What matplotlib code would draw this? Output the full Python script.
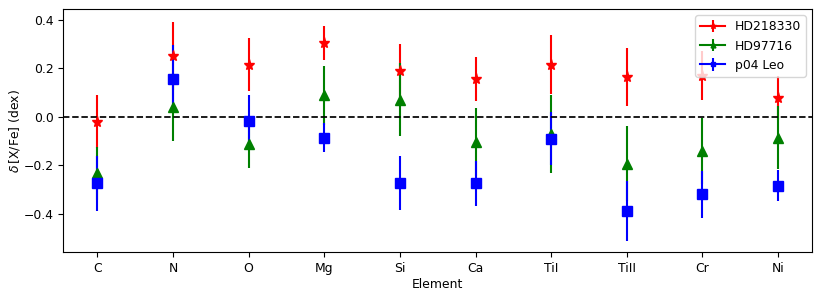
import numpy as np
import matplotlib.pyplot as plt

plt.rcParams['font.size'] = 8.9

# elements and abundance differences
elements = ['C', 'N', 'O', 'Mg', 'Si', 'Ca', 'TiI', 'TiII', 'Cr', 'Ni']

hd218330 = [-0.02, 0.25, 0.215, 0.305, 0.19, 0.155, 0.215, 0.165, 0.17, 0.078]
hd218330_err = [0.11, 0.14, 0.11, 0.07, 0.11, 0.09, 0.12, 0.12, 0.10, 0.09]

hd97716 = [-0.233, 0.04, -0.11, 0.088, 0.07, -0.102, -0.07, -0.192, -0.14, -0.085]
hd97716_err = [0.11, 0.14, 0.10, 0.12, 0.15, 0.14, 0.16, 0.155, 0.135, 0.13]

p04leo = [-0.274, 0.155, -0.018, -0.085, -0.272, -0.274, -0.09, -0.387, -0.319, -0.283]
p04leo_err = [0.112, 0.14, 0.11, 0.06, 0.11, 0.093, 0.11, 0.125, 0.098, 0.064]

series = [
    (hd218330, hd218330_err, '*', 'red', 8, 'HD218330'),
    (hd97716, hd97716_err, '^', 'green', 7, 'HD97716'),
    (p04leo, p04leo_err, 's', 'blue', 6.5, 'p04 Leo'),
]

fig, ax = plt.subplots(figsize=(8.22, 2.97), dpi=100)
x = np.arange(len(elements))

for vals, errs, mk, col, ms, lab in series:
    ax.errorbar(x, vals, yerr=errs, fmt=mk, color=col, markersize=ms, elinewidth=1.5)
    # proxy so the legend shows a line through the marker
    ax.errorbar([np.nan], [np.nan], yerr=[0.1], fmt='-' + mk, color=col, markersize=ms,
                elinewidth=1.5, label=lab)

ax.axhline(0, color='black', linestyle='--', linewidth=1.25)

ax.set_xticks(x)
ax.set_xticklabels(elements)
ax.set_xlim(-0.45, 9.45)
ax.set_ylim(-0.558, 0.443)
ax.set_yticks([-0.4, -0.2, 0.0, 0.2, 0.4])
ax.set_xlabel('Element', labelpad=2)
ax.set_ylabel(r'$\delta\,$[X/Fe] (dex)', labelpad=1)
ax.legend(loc='upper right', markerscale=0.5)

plt.subplots_adjust(left=0.077, right=0.988, top=0.969, bottom=0.150)
plt.savefig('out.png')
